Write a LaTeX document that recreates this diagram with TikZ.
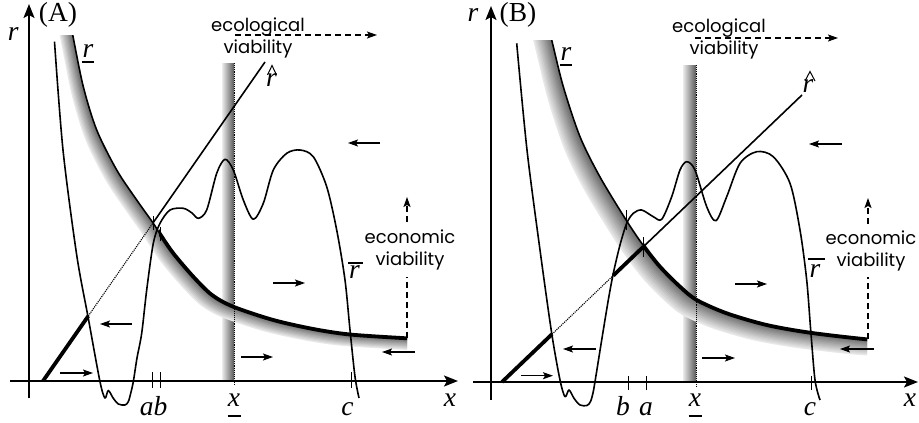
\documentclass[tikz,border=0pt]{standalone}
\usepackage{fontspec}
\setmainfont{Liberation Serif}
\newfontfamily\sansf{Poppins}
\usetikzlibrary{arrows.meta}

\tikzset{
 curve/.style={line width=1.6pt, line join=round},
 thickcurve/.style={line width=3.8pt, line join=round},
 axisarrow/.style={line width=1.5pt, -{Stealth[length=14pt,width=11pt,inset=3pt]}},
 flow/.style={line width=1.3pt, -{Stealth[length=10pt,width=7pt,inset=2pt]}},
 viab/.style={line width=1.2pt, dash pattern=on 6pt off 4pt, -{Stealth[length=10pt,width=7pt,inset=2pt]}},
 viabline/.style={line width=1.2pt, dash pattern=on 6pt off 4pt},
 mlab/.style={font=\fontsize{27.5}{30}\selectfont, inner sep=0pt, anchor=base},
 slab/.style={font=\sansf\fontsize{18}{22}\selectfont, inner sep=0pt, anchor=base},
 tickmark/.style={line width=1pt},
 dotline/.style={line width=1.1pt, densely dotted},
 decor/.style={line width=1.4pt},
 hatmark/.style={line width=1pt, line join=miter},
 rlowA/.style={insert path={plot[smooth] coordinates {(65.8,0) (72.7,35) (83.3,86.7) (96.7,130) (116.7,170) (136.7,200) (153.3,223.3) (160,234) (173.3,253.3) (193.3,276.7) (212,295) (233.3,306.7) (273.3,320) (313.3,329) (350,334.5) (406.7,338.3) (440,340)}}},
 rlowB/.style={insert path={plot[smooth] coordinates {(542,0) (551.7,40) (563.3,86.7) (580,136.7) (600,177) (626.7,221) (643.3,245.5) (660,266.7) (680,286.7) (696.7,300) (726.7,313.3) (766.7,325) (810,332.7) (866.7,339.3) (900,341)}}},
}

\begin{document}
\begin{tikzpicture}[x=1pt,y=-1pt]
\useasboundingbox (0,0) rectangle (919,423);
\fill[white] (0,0) rectangle (919,423);

% ================= Panel A =================
\shade[left color=black!8, right color=black!65] (222,63) rectangle (234,381);
\begin{scope}
 \clip (0,35) rectangle (407,423);
 \foreach \k in {10,9,...,1}{
  \pgfmathsetmacro\gg{int(58-4.8*\k)}
  \draw[line width=2.2pt, black!\gg, shift={(-\k,\k)}, rlowA];
 }
\end{scope}
\draw[dotline] (234.5,63) -- (234.5,386);

\draw[axisarrow] (10,381) -- (458,381);
\draw[axisarrow] (29,398) -- (29,4);

\draw[curve] plot[smooth] coordinates {(54.5,41.7) (63,150) (76.7,255) (88.3,318.3) (100,381.7) (105,398) (108.3,390.5) (113.3,398.3) (118.3,404) (125,405) (128.3,401.7) (130.7,393.3) (133.3,381.7) (137,358) (141.7,333.3) (146.7,290) (153.3,243.3) (160,223.3) (170,210) (183.3,208.3) (192,213) (198.3,218.3) (206.7,210) (216.7,173.3) (225,159.3) (233.3,170) (243.3,200) (253.3,219.3) (263.3,203.3) (273.3,170) (286.7,153.3) (300,150) (313.3,156.7) (326.7,186.7) (336.7,230) (345,280) (350,330) (355,376.7) (359,398)};

\begin{scope}
 \clip (0,35) rectangle (407,423);
 \draw[curve, rlowA];
 \clip (159,0) rectangle (407,423);
 \draw[thickcurve, rlowA];
\end{scope}

\coordinate (hA0) at (43,381);
\coordinate (hA1) at (88.3,316);
\coordinate (hA2) at (153.3,222.5);
\coordinate (hA3) at (265,62);
\draw[thickcurve] (hA0) -- (hA1);
\draw[dotline] (hA1) -- (hA2);
\draw[curve] (hA2) -- (hA3);

\draw[tickmark] (153.3,216) -- (153.3,230);
\draw[tickmark] (160,227) -- (160,241);
\draw[tickmark] (152.5,372) -- (152.5,388);
\draw[tickmark] (160.5,372) -- (160.5,388);
\draw[tickmark] (351,372) -- (351,388);

\draw[flow] (380,143) -- (348,143);
\draw[flow] (273,283) -- (305,283);
\draw[flow] (241,357) -- (273,357);
\draw[flow] (132,324) -- (100,324);
\draw[flow] (60,373) -- (93,373);
\draw[flow] (415,352) -- (382,352);

\draw[viab] (235,35) -- (377,35);
\coordinate (eA0) at (407,338);
\coordinate (eA1) at (407,277);
\coordinate (eA2) at (407,222);
\coordinate (eA3) at (407,197);
\draw[viabline] (eA0) -- (eA1);
\draw[viab] (eA2) -- (eA3);

\node[slab] (ecoA1) at (258,31) {ecological};
\node[slab] (ecoA2) at (258,53) {viability};
\node[slab] (ecnA1) at (410,243) {economic};
\node[slab] (ecnA2) at (410,265) {viability};

\node[mlab] (labA) at (58,21.7) {(A)};
\node[mlab] (rA) at (13.3,40) {\textit{r}};
\node[mlab] (rlowlabA) at (88,57) {\textit{r}};
\draw[decor] (82,62) -- (94,62);
\node[mlab] (rhatlabA) at (271.5,86) {\textit{r}};
\draw[hatmark] (267.5,75) -- (272,65.5) -- (276.5,75);
\node[mlab] (rbarlabA) at (354.5,278) {\textit{r}};
\draw[decor] (348,263) -- (363,263);
\node[mlab] (abA) at (153.5,415) {\textit{ab}};
\node[mlab] (xlowA) at (234,406) {\textit{x}};
\draw[decor] (227.5,416) -- (240.5,416);
\node[mlab] (cA) at (347.5,415) {\textit{c}};
\node[mlab] (xA) at (450,406) {\textit{x}};

% ================= Panel B =================
\shade[left color=black!8, right color=black!65] (683,65) rectangle (696,382);
\begin{scope}
 \clip (460,40) rectangle (867,423);
 \foreach \k in {14,13,...,1}{
  \pgfmathsetmacro\gg{int(58-3.5*\k)}
  \draw[line width=2.2pt, black!\gg, shift={(-\k,\k)}, rlowB];
 }
\end{scope}
\draw[dotline] (696.5,65) -- (696.5,387);

\draw[axisarrow] (473,382) -- (918,382);
\draw[axisarrow] (491,400) -- (491,6);

\draw[curve] plot[smooth] coordinates {(516.7,43.3) (527,150) (540,250) (551.7,333.3) (560,380) (565,396.7) (569,390) (574,398.3) (580,405) (587,405.5) (590.5,401.5) (593,393) (595,381.7) (601.7,340) (608.3,300) (613.3,273.3) (620,245) (626.7,223.3) (633.3,213.3) (641.7,210) (653.3,216.7) (661.7,219.3) (671.7,196.7) (680,170) (686.7,161.7) (695,170) (706.7,206.7) (716,220.7) (726.7,196.7) (740,163.3) (756.7,151.7) (773.3,156.7) (790,183.3) (800,230) (806.7,280) (810.7,330) (815,380) (820,400)};

\begin{scope}
 \clip (460,40) rectangle (867,423);
 \draw[curve, rlowB];
 \clip (643.3,0) rectangle (867,423);
 \draw[thickcurve, rlowB];
\end{scope}

\coordinate (hB0) at (502,382);
\coordinate (hB1) at (552,334.2);
\coordinate (hB2) at (613.3,275.5);
\coordinate (hB3) at (643.3,246.8);
\coordinate (hB4) at (802,95);
\draw[thickcurve] (hB0) -- (hB1);
\draw[dotline] (hB1) -- (hB2);
\draw[thickcurve] (hB2) -- (hB3);
\draw[curve] (hB3) -- (hB4);

\draw[tickmark] (626.7,210) -- (626.7,230);
\draw[tickmark] (643.3,237) -- (643.3,257);
\draw[tickmark] (628,376) -- (628,390);
\draw[tickmark] (646,376) -- (646,390);
\draw[tickmark] (811,376) -- (811,390);

\draw[flow] (842,144) -- (809,144);
\draw[flow] (735,284) -- (767,284);
\draw[flow] (702,358) -- (735,358);
\draw[flow] (596,349) -- (563,349);
\draw[flow] (521,375.7) -- (553,375.7);
\draw[flow] (874,349) -- (840,349);

\draw[viab] (695,38) -- (838,38);
\coordinate (eB0) at (868,339);
\coordinate (eB1) at (868,277);
\coordinate (eB2) at (868,224);
\coordinate (eB3) at (868,198);
\draw[viabline] (eB0) -- (eB1);
\draw[viab] (eB2) -- (eB3);

\node[slab] (ecoB1) at (719,32) {ecological};
\node[slab] (ecoB2) at (724,54) {viability};
\node[slab] (ecnB1) at (871,244) {economic};
\node[slab] (ecnB2) at (871,266) {viability};

\node[mlab] (labB) at (518,21.7) {(B)};
\node[mlab] (rB) at (473,21) {\textit{r}};
\node[mlab] (rlowlabB) at (566,60) {\textit{r}};
\draw[decor] (560,65) -- (572,65);
\node[mlab] (rhatlabB) at (808,92) {\textit{r}};
\draw[hatmark] (805,81) -- (810,71.5) -- (815,81);
\node[mlab] (rbarlabB) at (815,277) {\textit{r}};
\draw[decor] (808,259) -- (825,259);
\node[mlab] (bB) at (623,415) {\textit{b}};
\node[mlab] (aB) at (646,415) {\textit{a}};
\node[mlab] (xlowB) at (695,406) {\textit{x}};
\draw[decor] (688.5,416) -- (701.5,416);
\node[mlab] (cB) at (810,415) {\textit{c}};
\node[mlab] (xB) at (910,406) {\textit{x}};
\end{tikzpicture}
\end{document}
